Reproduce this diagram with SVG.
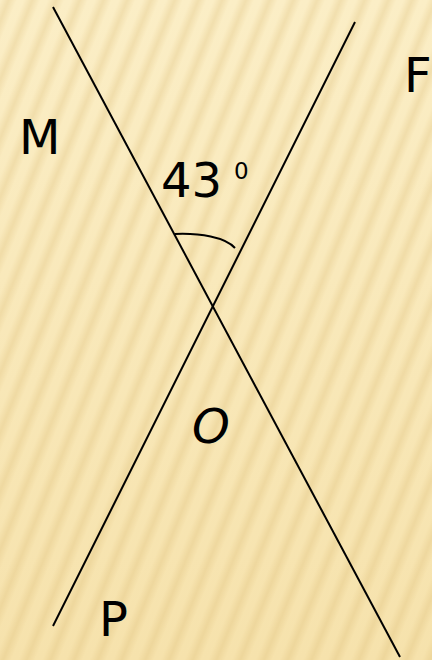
<svg xmlns="http://www.w3.org/2000/svg" width="432" height="660" viewBox="0 0 432 660">
<defs>
<linearGradient id="bg" x1="0" y1="0" x2="0" y2="1">
<stop offset="0" stop-color="#FBEEC6"/>
<stop offset="1" stop-color="#F6E2AC"/>
</linearGradient>
<linearGradient id="stripeG" x1="0" y1="0" x2="1" y2="0">
<stop offset="0" stop-color="#D9B870" stop-opacity="0"/>
<stop offset="0.5" stop-color="#D9B870" stop-opacity="0.28"/>
<stop offset="1" stop-color="#D9B870" stop-opacity="0"/>
</linearGradient>
<pattern id="stripes" width="22" height="40" patternUnits="userSpaceOnUse" patternTransform="rotate(22)">
<rect x="0" y="0" width="16" height="40" fill="url(#stripeG)"/>
</pattern>
<style>
.ln{stroke:#000;stroke-width:2;fill:none}
.lbl{font-family:"DejaVu Sans",sans-serif;font-size:48px;fill:#000}
</style>
</defs>
<rect width="432" height="660" fill="url(#bg)"/>
<rect width="432" height="660" fill="url(#stripes)"/>
<g id="connectors">
<line class="ln" x1="53" y1="7" x2="400" y2="657"/>
<line class="ln" x1="355" y1="22" x2="53" y2="626"/>
<path class="ln" d="M175,234 C200,233 225,237 235,248"/>
</g>
<g id="M"><text class="lbl" x="19" y="154">M</text></g>
<g id="F"><text class="lbl" x="404" y="92">F</text></g>
<g id="angle"><text class="lbl" x="161" y="197">43</text><text class="lbl" x="234" y="179" style="font-size:23px">0</text></g>
<g id="O"><text class="lbl" x="192" y="443" font-style="italic">O</text></g>
<g id="P"><text class="lbl" x="99" y="636">P</text></g>
</svg>
